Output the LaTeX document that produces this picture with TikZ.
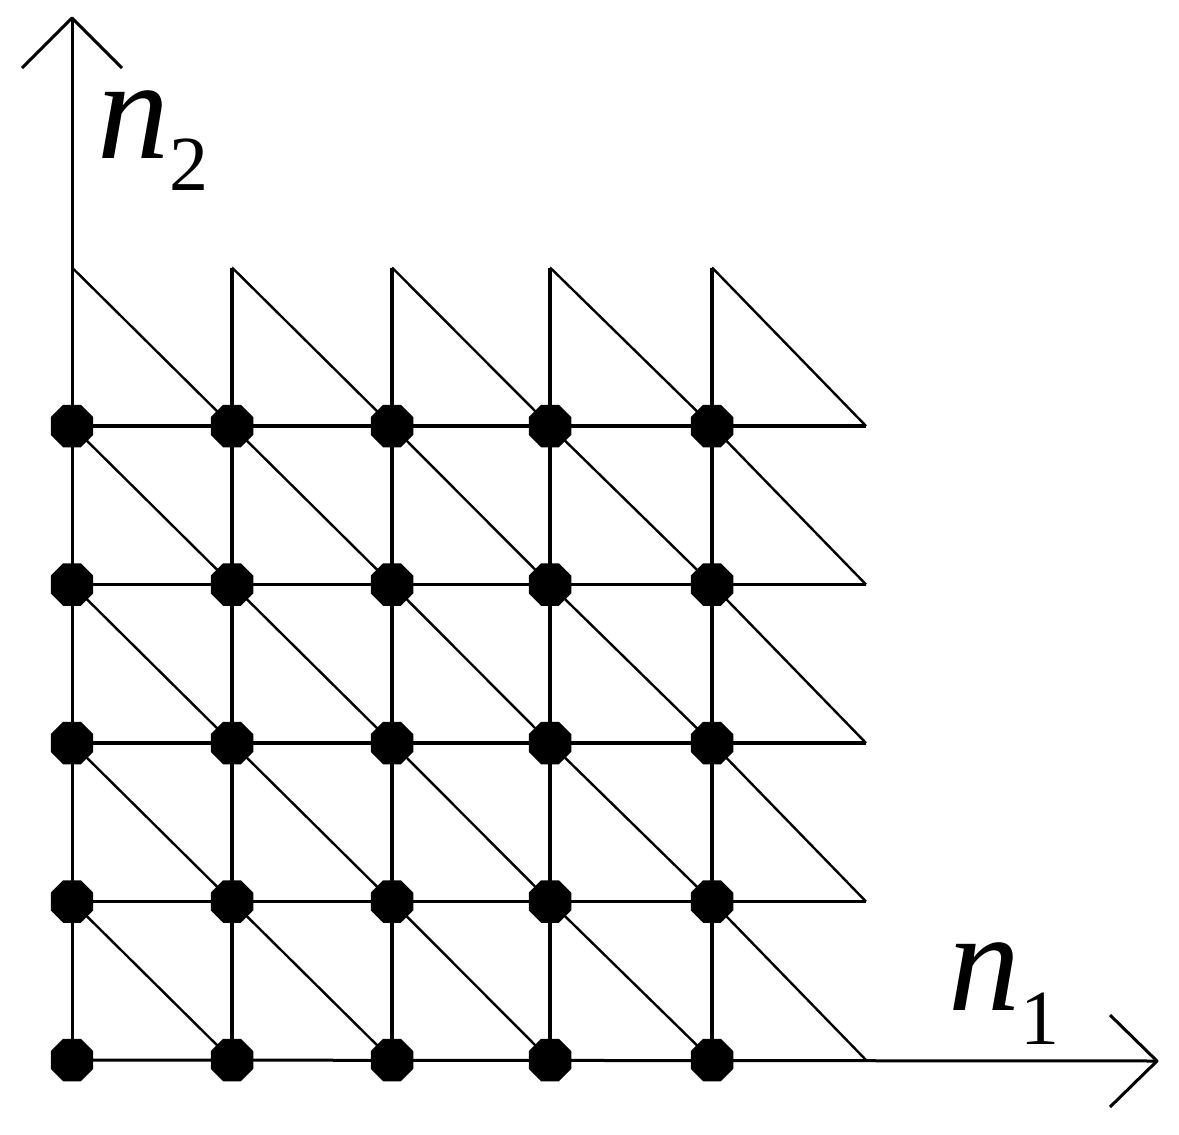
\documentclass[tikz,border=0pt]{standalone}
\usepackage{fontspec}
\setmainfont{Liberation Serif}
\usetikzlibrary{shapes.geometric}
\begin{document}
\begin{tikzpicture}[x=0.5pt,y=-0.5pt,
 gridline/.style={line width=1.6pt},
 diag/.style={line width=1.2pt},
 axisline/.style={line width=1.5pt, line join=round},
 dot/.style={regular polygon, regular polygon sides=8, fill=black, inner sep=0pt, minimum size=23pt},
 lbl/.style={inner sep=0pt, anchor=base west, font=\fontsize{72}{72}\selectfont}]
\useasboundingbox (0,0) rectangle (1179,1135);
\def\xs{{72,232,392,550,712,866}}
\def\ys{{1060,901.5,743,584.5,426,267.5}}
\foreach \i in {0,...,5}{\foreach \j in {0,...,5}{
 \pgfmathsetmacro\xx{\xs[\i]}\pgfmathsetmacro\yy{\ys[\j]}
 \coordinate (c-\i-\j) at (\xx,\yy);}}
% horizontal grid lines
\foreach \j in {1,...,4} \draw[gridline] (c-0-\j) -- (c-5-\j);
% vertical grid lines
\foreach \i in {1,...,4} \draw[gridline] (c-\i-0) -- (c-\i-5);
% diagonals
\foreach \i in {0,...,4}{\foreach \j in {1,...,5}{
 \pgfmathtruncatemacro\ii{\i+1}\pgfmathtruncatemacro\jj{\j-1}
 \draw[diag] (c-\i-\j) -- (c-\ii-\jj);}}
% axes
\coordinate (ytip) at (72,18);
\coordinate (xtip) at (1157,1061);
\coordinate (ya) at (22,68);
\coordinate (yb) at (122,68);
\coordinate (xa) at (1110,1015);
\coordinate (xb) at (1110,1107);
\draw[axisline] (c-0-0) -- (ytip);
\draw[axisline] (c-0-0) -- (xtip);
\draw[axisline] (ya) -- (ytip) -- (yb);
\draw[axisline] (xa) -- (xtip) -- (xb);
% dots
\foreach \i in {0,...,4}{\foreach \j in {0,...,4}{
 \node[dot] (p-\i-\j) at (c-\i-\j) {};}}
% labels
\node[lbl] (n2) at (97,158) {\itshape n\raisebox{-16pt}{\fontsize{39}{39}\selectfont\upshape 2}};
\node[lbl] (n1) at (948,1010) {\itshape n\raisebox{-17pt}{\fontsize{39}{39}\selectfont\upshape 1}};
\end{tikzpicture}
\end{document}
